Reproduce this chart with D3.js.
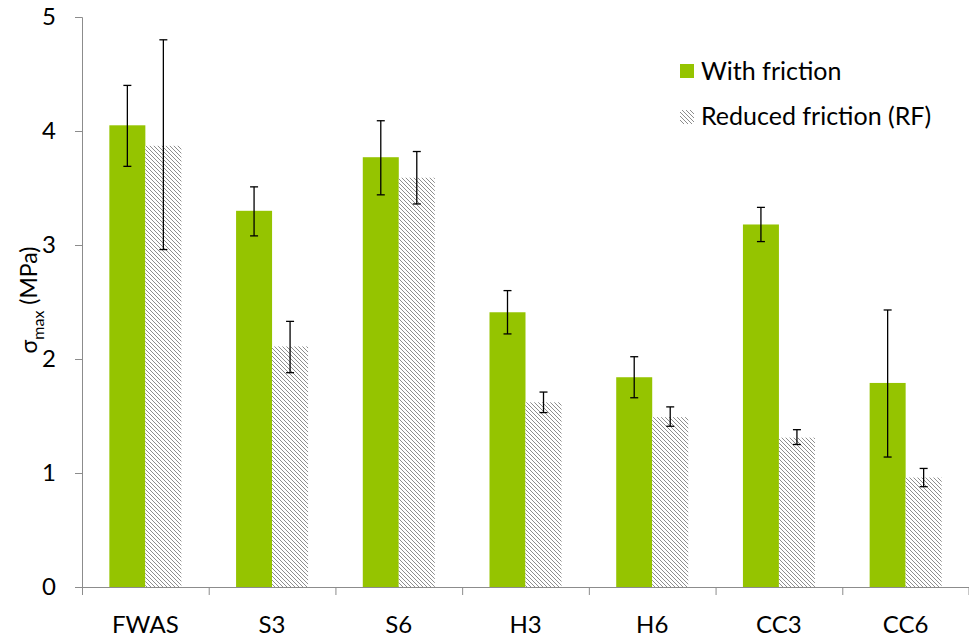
<!DOCTYPE html>
<html><head><meta charset="utf-8">
<script src="https://cdn.jsdelivr.net/npm/d3@7"></script>
<style>body{margin:0;background:#fff}svg{display:block;font-family:Lato,"Open Sans",sans-serif}</style>
</head><body><svg id="c" width="969" height="642"></svg>
<script>
const categories = ["FWAS","S3","S6","H3","H6","CC3","CC6"];
const withFriction = [4.05,3.30,3.77,2.41,1.84,3.18,1.79];
const withFrictionLow = [3.69,3.08,3.44,2.22,1.66,3.03,1.14];
const withFrictionHigh = [4.40,3.51,4.09,2.60,2.02,3.33,2.43];
const reduced = [3.87,2.11,3.59,1.62,1.49,1.31,0.96];
const reducedLow = [2.96,1.88,3.36,1.53,1.41,1.25,0.88];
const reducedHigh = [4.80,2.33,3.82,1.71,1.58,1.38,1.04];
const yTicks = [0,1,2,3,4,5];
const seriesNames = ["With friction","Reduced friction (RF)"];

const svg = d3.select("#c");
const x0 = 82, x1 = 969, yTop = 17, yBot = 587;
const x = d3.scaleBand().domain(categories).range([x0,x1]).paddingInner(0).paddingOuter(0);
const y = d3.scaleLinear().domain([0,5]).range([yBot,yTop]);
const barW = 36;
const green = "#95c400";
const axisCol = "#8c8c8c";

const defs = svg.append("defs");
const pat = defs.append("pattern").attr("id","hatch").attr("patternUnits","userSpaceOnUse")
  .attr("width",4).attr("height",4);
pat.append("rect").attr("width",4).attr("height",4).attr("fill","#fff");
pat.append("path").attr("d","M-1,-1 L5,5 M-1,3 L1,5 M3,-1 L5,1")
  .attr("stroke","#808080").attr("stroke-width",0.9);

// bars
const g = svg.append("g");
categories.forEach((c,i)=>{
  const cx = x(c) + x.bandwidth()/2;
  g.append("rect").attr("x",cx-barW).attr("width",barW)
    .attr("y",y(withFriction[i])).attr("height",yBot-y(withFriction[i])).attr("fill",green);
  g.append("rect").attr("x",cx).attr("width",barW)
    .attr("y",y(reduced[i])).attr("height",yBot-y(reduced[i])).attr("fill","url(#hatch)");
});
// error bars
function err(cx,lo,hi){
  const e = g.append("g").attr("stroke","#000").attr("stroke-width",1.3);
  e.append("line").attr("x1",cx).attr("x2",cx).attr("y1",y(lo)).attr("y2",y(hi));
  e.append("line").attr("x1",cx-4).attr("x2",cx+4).attr("y1",y(lo)).attr("y2",y(lo));
  e.append("line").attr("x1",cx-4).attr("x2",cx+4).attr("y1",y(hi)).attr("y2",y(hi));
}
categories.forEach((c,i)=>{
  const cx = x(c) + x.bandwidth()/2;
  err(cx-barW/2, withFrictionLow[i], withFrictionHigh[i]);
  err(cx+barW/2, reducedLow[i], reducedHigh[i]);
});

// y axis
const ya = svg.append("g").attr("transform",`translate(${x0},0)`)
  .call(d3.axisLeft(y).tickValues(yTicks).tickSize(7).tickPadding(19).tickFormat(d3.format("d")));
ya.select(".domain").attr("stroke",axisCol).attr("d",`M-7,${yTop+0.5}H0.5V${yBot}`);
ya.selectAll(".tick line").attr("stroke",axisCol);
ya.selectAll(".tick text").attr("font-size",24).attr("fill","#000").attr("font-family","Lato");

// x axis
const xa = svg.append("g").attr("transform",`translate(0,${yBot})`);
xa.append("line").attr("x1",x0).attr("x2",x1).attr("y1",0.5).attr("y2",0.5).attr("stroke",axisCol);
const bounds = categories.map(c=>x(c)).concat([x1-0.5]);
bounds.forEach(b=>xa.append("line").attr("x1",b+0.5).attr("x2",b+0.5).attr("y1",0).attr("y2",8).attr("stroke",axisCol));
categories.forEach(c=>{
  xa.append("text").attr("x",x(c)+x.bandwidth()/2).attr("y",46).attr("text-anchor","middle")
    .attr("font-size",24).attr("fill","#000").text(c);
});

// y label
const yl = svg.append("text").attr("transform","translate(37,300) rotate(-90)")
  .attr("text-anchor","middle").attr("font-size",23).attr("fill","#000");
yl.append("tspan").text("σ");
yl.append("tspan").attr("font-size",16).attr("dy",7).text("max");
yl.append("tspan").attr("dy",-7).text(" (MPa)");

// legend
const lg = svg.append("g");
lg.append("rect").attr("x",680).attr("y",64).attr("width",14).attr("height",14).attr("fill",green);
lg.append("rect").attr("x",680).attr("y",110).attr("width",14).attr("height",14).attr("fill","url(#hatch)");
lg.append("text").attr("x",701).attr("y",80).attr("font-size",25).attr("fill","#000").text(seriesNames[0]);
lg.append("text").attr("x",701).attr("y",125).attr("font-size",25).attr("fill","#000").text(seriesNames[1]);
</script></body></html>
